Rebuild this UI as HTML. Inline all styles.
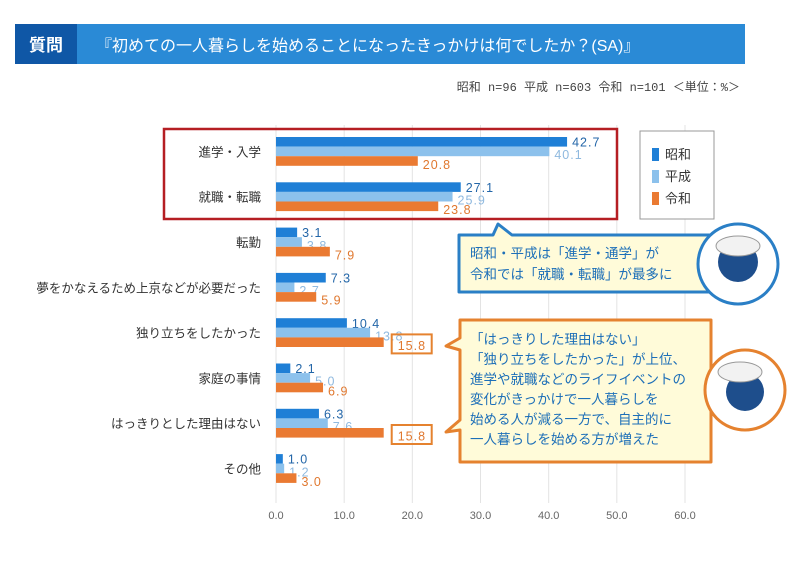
<!DOCTYPE html>
<html><head><meta charset="utf-8">
<style>
body{margin:0;width:798px;height:566px;background:#fff;overflow:hidden;font-family:"Liberation Sans","Noto Sans CJK JP",sans-serif;}
svg text{font-family:"Liberation Sans","Noto Sans CJK JP",sans-serif;}
</style></head><body>
<svg id="c" width="798" height="566" xmlns="http://www.w3.org/2000/svg">
<rect x="15" y="24" width="730" height="40" fill="#2a8ad6"/>
<rect x="15" y="24" width="62" height="40" fill="#0f57a6"/>
<text x="46" y="51" text-anchor="middle" font-size="17" font-weight="bold" fill="#fff">質問</text>
<text x="96" y="51" font-size="16" fill="#fff">『初めての一人暮らしを始めることになったきっかけは何でしたか？(SA)』</text>
<text x="740" y="91" text-anchor="end" font-size="12" fill="#444" style="font-family:'Liberation Mono','Noto Sans CJK JP',monospace">昭和 n=96  平成 n=603  令和 n=101  ＜単位：%＞</text>
<g id="grid"></g>
<g id="bars"></g>
<rect x="164" y="129" width="453" height="90" fill="none" stroke="#b51e23" stroke-width="2.5"/>
<g>
<rect x="640" y="131" width="74" height="88" fill="#fff" stroke="#999"/>
<rect x="652" y="148" width="7" height="13" fill="#1f7fd6"/>
<text x="665" y="159" font-size="13" fill="#333">昭和</text>
<rect x="652" y="170" width="7" height="13" fill="#8cc1ec"/>
<text x="665" y="181" font-size="13" fill="#333">平成</text>
<rect x="652" y="192" width="7" height="13" fill="#ea7a32"/>
<text x="665" y="203" font-size="13" fill="#333">令和</text>
</g>
<g>
<path d="M459,235 H493 L498,224 L512,235 H724 V292 H459 Z" fill="#fffbd9" stroke="#2a7fc6" stroke-width="3" stroke-linejoin="round"/>
<text x="470" y="258" font-size="13.5" fill="#1d6fb8">昭和・平成は「進学・通学」が</text>
<text x="470" y="279" font-size="13.5" fill="#1d6fb8">令和では「就職・転職」が最多に</text>
<circle cx="738" cy="264" r="40" fill="#fff" stroke="#2a7fc6" stroke-width="3"/>
<circle cx="738" cy="262" r="20" fill="#1e4e8c"/>
<ellipse cx="738" cy="246" rx="22" ry="10" fill="#f2f2f2" stroke="#999"/>
</g>
<g>
<path d="M460,320 H711 V462 H460 V430 L446,432 L460,420 V350 L446,346 L460,338 Z" fill="#fffbd9" stroke="#e5822f" stroke-width="3" stroke-linejoin="round"/>
<text x="470" y="344" font-size="13.5" fill="#1d6fb8">「はっきりした理由はない」</text>
<text x="470" y="364" font-size="13.5" fill="#1d6fb8">「独り立ちをしたかった」が上位、</text>
<text x="470" y="384" font-size="13.5" fill="#1d6fb8">進学や就職などのライフイベントの</text>
<text x="470" y="404" font-size="13.5" fill="#1d6fb8">変化がきっかけで一人暮らしを</text>
<text x="470" y="424" font-size="13.5" fill="#1d6fb8">始める人が減る一方で、自主的に</text>
<text x="470" y="444" font-size="13.5" fill="#1d6fb8">一人暮らしを始める方が増えた</text>
<circle cx="745" cy="390" r="40" fill="#fff" stroke="#e5822f" stroke-width="3"/>
<circle cx="745" cy="392" r="19" fill="#1e4e8c"/>
<ellipse cx="740" cy="372" rx="22" ry="10" fill="#f2f2f2" stroke="#999"/>
</g>
</svg>
<script>
const categories=["進学・入学","就職・転職","転勤","夢をかなえるため上京などが必要だった","独り立ちをしたかった","家庭の事情","はっきりとした理由はない","その他"];
const showa=[42.7,27.1,3.1,7.3,10.4,2.1,6.3,1.0];
const heisei=[40.1,25.9,3.8,2.7,13.8,5.0,7.6,1.2];
const reiwa=[20.8,23.8,7.9,5.9,15.8,6.9,15.8,3.0];
const highlighted=[false,false,false,false,true,false,true,false];
const ticks=[0,10,20,30,40,50,60];
const tickLabels=["0.0","10.0","20.0","30.0","40.0","50.0","60.0"];
const NS="http://www.w3.org/2000/svg";
const x=v=>276+v*(409/60);
const gTop=i=>137+i*45.3;
const bh=9.6;
function mk(tag,attrs,parent,txt){const e=document.createElementNS(NS,tag);for(const k in attrs)e.setAttribute(k,attrs[k]);if(txt!==undefined)e.textContent=txt;parent.appendChild(e);return e;}
const grid=document.getElementById('grid'),bars=document.getElementById('bars');
ticks.forEach((t,i)=>{
 const l=mk('line',{x1:x(t),x2:x(t),y1:125,y2:503,stroke:'#e3e3e3','stroke-width':1},grid);
 
 
 const tx=mk('text',{x:x(t),y:519,'text-anchor':'middle','font-size':11,fill:'#666'},grid,tickLabels[i]);
 
 
});
const series=[{d:showa,c:'#1f7fd6',t:'#2366a8',n:'showa'},{d:heisei,c:'#8cc1ec',t:'#8fb9df',n:'heisei'},{d:reiwa,c:'#ea7a32',t:'#e0782f',n:'reiwa'}];
categories.forEach((cat,i)=>{
 const lab=mk('text',{x:261,y:gTop(i)+bh*1.5+5,'text-anchor':'end','font-size':12.5,fill:'#333'},bars,cat);
 
 
 series.forEach((s,j)=>{
  const v=s.d[i],y=gTop(i)+j*bh;
  const r=mk('rect',{x:x(0),y:y,width:x(v)-x(0),height:bh,fill:s.c},bars);
  
  
  const hl=(j===2&&highlighted[i]);
  const tx=mk('text',{x:x(v)+(hl?14:5),y:y+bh+(j===0?0:3),'font-size':12.5,fill:s.t,'letter-spacing':'1'},bars,v.toFixed(1));
  
  
  if(hl){
   const b=mk('rect',{x:x(v)+8,y:y-3,width:40,height:19,fill:'none',stroke:'#e5822f','stroke-width':2},bars);
   
   
  }
 });
});
</script>
</body></html>
